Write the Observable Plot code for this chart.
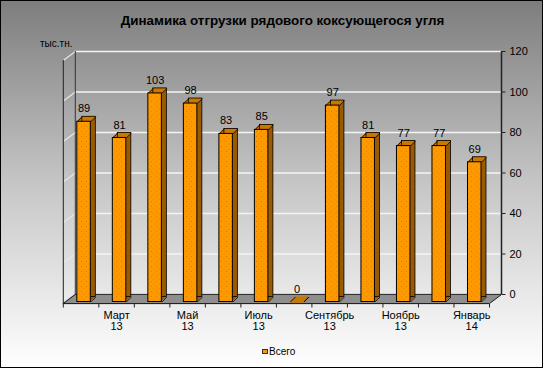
<!DOCTYPE html>
<html>
<head>
<meta charset="utf-8">
<script src="https://cdn.jsdelivr.net/npm/d3@7"></script>
<script src="https://cdn.jsdelivr.net/npm/@observablehq/plot@0.6"></script>
<style>
  body { margin: 0; }
  #chart { position: relative; width: 543px; height: 368px; overflow: hidden;
    background: linear-gradient(to bottom, #7d7d7d 0%, #c6c6c6 50%, #ffffff 100%);
    font-family: Arial, "Liberation Sans", sans-serif; }
  #chart svg { position: absolute; left: 0; top: 0; }
  #title { position: absolute; top: 13px; left: 11px; width: 543px; text-align: center;
    font: bold 13.4px Arial, "Liberation Sans", sans-serif; color: #000; }
  #unit { position: absolute; left: 40px; top: 38px; font-size: 10px; line-height: 12px; color: #000; }
  #legend { position: absolute; left: 262px; top: 346px; font-size: 10px; line-height: 12px; color: #000; }
  #legend .sw { display: inline-block; width: 4px; height: 3px; background: #ff9900; border: 1px solid #333; margin-right: 1px; vertical-align: 1px; }
  #frame { position: absolute; left: 0; top: 0; width: 543px; height: 368px; box-sizing: border-box; border: 1px solid #000; pointer-events: none; }
</style>
</head>
<body>
<div id="chart">
  <div id="title">Динамика отгрузки рядового коксующегося угля</div>
  <div id="unit">тыс.тн.</div>
  <div id="legend"><span class="sw"></span>Всего</div>
  <div id="frame"></div>
</div>
<script>
// ---- data ----
const months = ["Февраль\n13","Март\n13","Апрель\n13","Май\n13","Июнь\n13","Июль\n13",
                "Август\n13","Сентябрь\n13","Октябрь\n13","Ноябрь\n13","Декабрь\n13","Январь\n14"];
const values = [89, 81, 103, 98, 83, 85, 0, 97, 81, 77, 77, 69];
const yTicks = [0, 20, 40, 60, 80, 100, 120];

// ---- layout ----
const W = 543, H = 368, ML = 65.8, MR = 51, MT = 58.5, MB = 66.5;
const N = months.length;
const PX = (W - ML - MR) / N;       // px per x unit
const PY = (H - MT - MB) / 120;     // px per y unit
const FDX = -3, FDY = 1.5;          // front plane offset
const BDX = 9, BDY = -7.5;          // back wall offset
const DX = BDX - FDX, DY = FDY - BDY; // depth of floor (px)
const BW = 0.38, BD = 5;            // bar width (units), bar depth (px)
const FRONT = "#ff9900", TOP = "#c97800", SIDE = "#9a5b00";

const data = values.map((v, i) => ({i, month: months[i], value: v}));
const bx1 = d => d.i + 0.5 - BW / 2;
const bx2 = d => d.i + 0.5 + BW / 2;
const steps = (n, s) => d3.range(s, n + 1e-9, s);

const marks = [];
// floor
[0, ...steps(DY, 0.5)].forEach(t => marks.push(
  Plot.ruleY([0], {dx: FDX + t * DX / DY, dy: FDY - t, stroke: "#8e8e8e", strokeWidth: 1.5})));
// back wall grid
marks.push(Plot.ruleY(yTicks.filter(t => t > 0), {dx: BDX, dy: BDY, stroke: "#f4f4f4", strokeWidth: 1.5}));
// side wall diagonals
marks.push(Plot.link(yTicks.filter(t => t > 0), {x1: () => 0, x2: () => DX / PX, y1: t => t, y2: t => t + DY / PY,
  dx: FDX, dy: FDY, stroke: "#e6e6e6", strokeWidth: 1.2}));
// wall edges
marks.push(Plot.ruleX([0], {y1: 0, y2: 120, dx: FDX, dy: FDY, stroke: "#222"}));
marks.push(Plot.ruleX([0], {y1: 0, y2: 120, dx: BDX, dy: BDY, stroke: "#333"}));
// floor edges
marks.push(Plot.ruleY([0], {dx: BDX, dy: BDY, stroke: "#333"}));
marks.push(Plot.link([0, N], {x1: d => d, x2: d => d + DX / PX, y1: () => 0, y2: () => DY / PY, dx: FDX, dy: FDY, stroke: "#222"}));
marks.push(Plot.ruleY([0], {dx: FDX, dy: FDY, stroke: "#222"}));
// x ticks
marks.push(Plot.link(d3.range(N + 1), {x1: d => d, x2: d => d, y1: () => 0, y2: () => -4 / PY, dx: FDX, dy: FDY, stroke: "#222"}));
// month labels
marks.push(Plot.text(data.filter(d => d.i % 2 === 1), {x: d => d.i + 0.5, y: () => 0, dx: FDX, dy: 9,
  lineAnchor: "top", lineHeight: 1, text: "month", fontSize: 11, fill: "#000"}));
// right axis
marks.push(Plot.ruleX([N], {y1: 0, y2: 120, dx: BDX, dy: BDY, stroke: "#222", strokeWidth: 1.5}));
marks.push(Plot.link(yTicks, {x1: () => N, x2: () => N + 4 / PX, y1: d => d, y2: d => d, dx: BDX, dy: BDY, stroke: "#222"}));
marks.push(Plot.text(yTicks, {x: () => N, y: d => d, dx: BDX + 8, dy: BDY, textAnchor: "start", text: d => String(d), fontSize: 11, fill: "#000"}));
// bars: extrusion
steps(BD, 0.5).forEach(k => marks.push(
  Plot.rect(data, {x1: bx1, x2: bx2, y1: () => 0, y2: "value", dx: k, dy: -k, fill: SIDE})));
[0, ...steps(BD, 0.5)].forEach(k => marks.push(
  Plot.ruleY(data, {y: "value", x1: bx1, x2: bx2, dx: k, dy: -k, stroke: TOP, strokeWidth: 1.2})));
marks.push(Plot.rect(data, {x1: bx1, x2: bx2, y1: () => 0, y2: "value", dx: BD, dy: -BD, fill: "none", stroke: "#000", strokeWidth: 0.8}));
marks.push(Plot.link(data, {x1: bx1, x2: d => bx1(d) + BD / PX, y1: "value", y2: d => d.value + BD / PY, stroke: "#000", strokeWidth: 0.8}));
marks.push(Plot.link(data, {x1: bx2, x2: d => bx2(d) + BD / PX, y1: "value", y2: d => d.value + BD / PY, stroke: "#000", strokeWidth: 0.8}));
marks.push(Plot.link(data, {x1: bx2, x2: d => bx2(d) + BD / PX, y1: () => 0, y2: () => BD / PY, stroke: "#000", strokeWidth: 0.8}));
// bars: front
marks.push(Plot.rect(data, {x1: bx1, x2: bx2, y1: () => 0, y2: "value", fill: FRONT, stroke: "#000", strokeWidth: 1}));
// value labels
marks.push(Plot.text(data, {x: d => d.i + 0.5, y: "value", dy: -13, text: d => String(d.value), fontSize: 11, fill: "#000"}));

const svg = Plot.plot({
  width: W, height: H,
  marginLeft: ML, marginRight: MR, marginTop: MT, marginBottom: MB,
  x: {type: "linear", domain: [0, N], axis: null},
  y: {type: "linear", domain: [0, 120], axis: null},
  style: {background: "transparent", fontFamily: "Arial, 'Liberation Sans', sans-serif", overflow: "visible"},
  marks
});

// dotted texture on front faces
const ns = "http://www.w3.org/2000/svg";
const defs = document.createElementNS(ns, "defs");
defs.innerHTML = '<pattern id="dots" width="5" height="5" patternUnits="userSpaceOnUse">' +
  '<rect width="5" height="5" fill="#ff9900"/><rect x="1" y="1" width="1" height="1" fill="#d97f00"/>' +
  '<rect x="3.5" y="3.5" width="1" height="1" fill="#e08400"/></pattern>';
svg.insertBefore(defs, svg.firstChild);
svg.querySelectorAll('[fill="#ff9900"]').forEach(el => { if (el.tagName === "g") el.setAttribute("fill", "url(#dots)"); });

document.getElementById("chart").insertBefore(svg, document.getElementById("frame"));
</script>
</body>
</html>
